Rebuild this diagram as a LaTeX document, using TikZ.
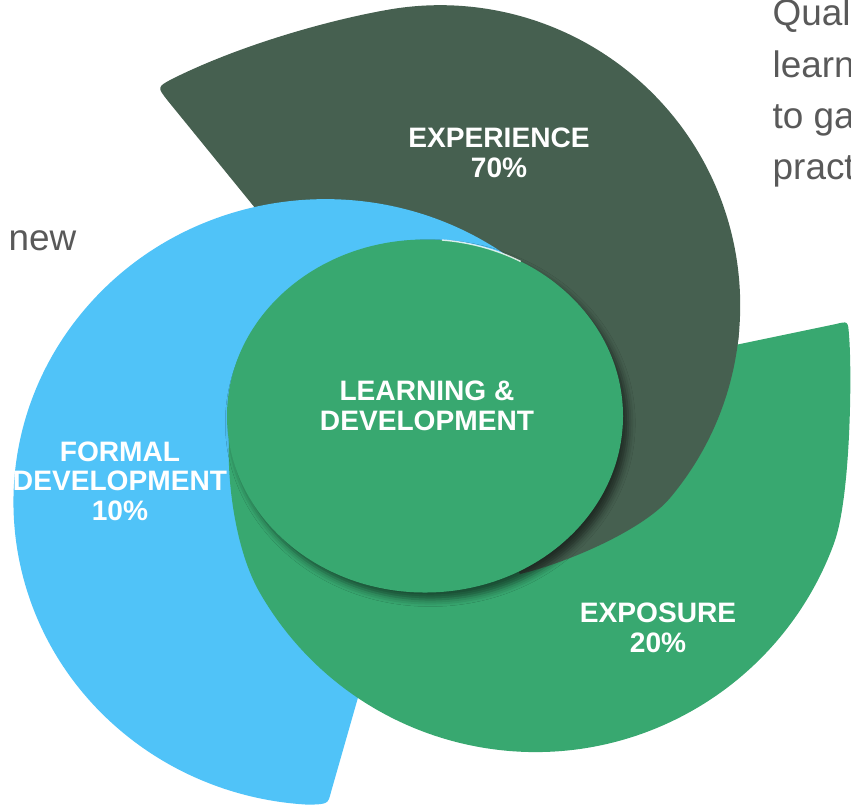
\documentclass[tikz,border=0pt]{standalone}
\usepackage{fontspec}
\setmainfont{Liberation Sans}
\usetikzlibrary{positioning, shadows.blur}
\definecolor{expgreen}{HTML}{466050}
\definecolor{learngreen}{HTML}{38A870}
\definecolor{formalblue}{HTML}{50C3F8}
\definecolor{notegray}{HTML}{595959}
\tikzset{seglabel/.style = {text=white, align=center, inner sep=0pt, font=\bfseries\fontsize{8}{8.4}\selectfont},
         note/.style = {text=notegray, anchor=base west, inner sep=0pt, font=\fontsize{10.5}{12}\selectfont}}
% outline of the experience segment (drawn twice)
\newcommand{\exppath}{(425,416) -- (520,574) .. controls (570,562) and (644,529) .. (670,498)
    arc[start angle=40, end angle=-100, radius=300]
    .. controls (329,20) and (240,45) .. (172,79)
    .. controls (157,87) .. (168,101) -- (330,300) -- cycle}

\begin{document}
\begin{tikzpicture}[x=0.1mm, y=-0.1mm]
    \useasboundingbox (0,0) rectangle (851,809);
    % segments
    \fill[expgreen] \exppath;
    \fill[formalblue] (526,270) arc[start angle=-50, end angle=-267, x radius=312, y radius=303]
        .. controls (328,804) .. (331,792) -- (385,603) -- (425,416) -- cycle;
    \fill[learngreen] (425,416) -- (229,440) .. controls (227,480) and (235,550) .. (260,593)
        arc[start angle=150, end angle=20, radius=318]
        .. controls (851,496) and (852,370) .. (849,335)
        .. controls (848,321) .. (836,324) -- (740,344) -- (560,381) -- cycle;
    \begin{scope}
        \clip (480,330) rectangle (851,809);
        \fill[expgreen] \exppath;
    \end{scope}
    % centre
    \fill[learngreen, blur shadow={shadow xshift=1.5pt, shadow yshift=-2pt, shadow blur radius=2pt, shadow opacity=55}]
        (425,416) ellipse[x radius=198, y radius=176.5];
    \draw[white, opacity=0.8, line width=0.4pt] (442,240) arc[start angle=-85, end angle=-61, x radius=198, y radius=176.5];
    \node[seglabel] (centre) at (427,406) {LEARNING \&\\DEVELOPMENT};
    \node[seglabel] (experience) at (499,153) {EXPERIENCE\\70\%};
    \node[seglabel] (formal) at (120,481) {FORMAL\\DEVELOPMENT\\10\%};
    \node[seglabel] (exposure) at (658,628) {EXPOSURE\\20\%};
    % cut-off notes
    \node[note] (qual) at (772,25) {Qual};
    \node[note] (learn) at (772,77) {learn};
    \node[note] (toga) at (772,128) {to ga};
    \node[note] (pract) at (772,179) {pract};
    \node[note] (new) at (8,250) {new};
\end{tikzpicture}
\end{document}
